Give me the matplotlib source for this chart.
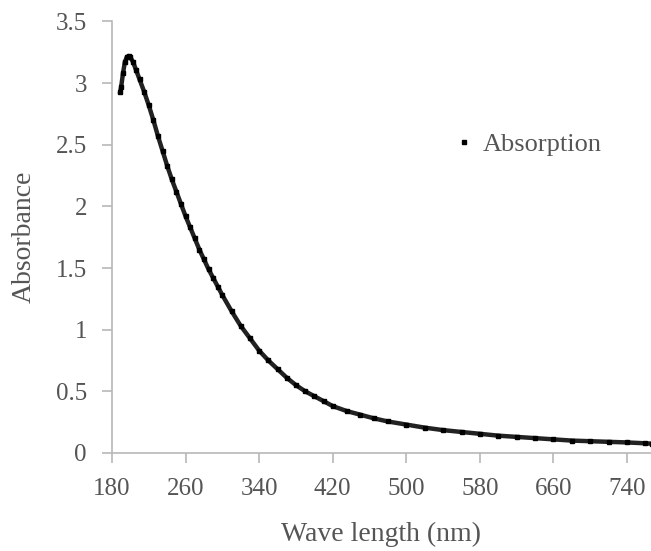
import matplotlib.pyplot as plt
import numpy as np

# wavelength (nm) and absorbance
wavelength = [189, 190, 192, 194, 196, 198, 200, 203, 206, 210, 215, 220, 225, 230,
              235, 240, 245, 250, 255, 260, 265, 270, 275, 280, 285, 290, 295, 300,
              310, 320, 330, 340, 350, 360, 370, 380, 390, 400, 410, 420, 435, 450,
              465, 480, 500, 520, 540, 560, 580, 600, 620, 640, 660, 680, 700, 720,
              740, 760, 767]
absorbance = [2.93, 2.97, 3.08, 3.17, 3.21, 3.22, 3.21, 3.17, 3.11, 3.03, 2.93, 2.82,
              2.70, 2.57, 2.45, 2.33, 2.22, 2.12, 2.02, 1.92, 1.83, 1.74, 1.65, 1.57,
              1.49, 1.42, 1.35, 1.28, 1.15, 1.03, 0.93, 0.83, 0.75, 0.68, 0.61, 0.55,
              0.50, 0.46, 0.42, 0.38, 0.34, 0.31, 0.28, 0.255, 0.23, 0.205, 0.185,
              0.17, 0.155, 0.14, 0.13, 0.12, 0.11, 0.10, 0.095, 0.09, 0.085, 0.078, 0.075]

xticks = [180, 260, 340, 420, 500, 580, 660, 740]
yticks = [0, 0.5, 1, 1.5, 2, 2.5, 3, 3.5]
ytick_labels = ['0', '0.5', '1', '1.5', '2', '2.5', '3', '3.5']

plt.rcParams['font.family'] = ['Liberation Serif', 'DejaVu Serif']
grey = '#555555'
axis_grey = '#b8b8b8'

fig = plt.figure(figsize=(6.51, 5.51), dpi=100)
ax = fig.add_axes([0.172, 0.178, 0.828, 0.783])

ax.plot(wavelength, absorbance, color='#222222', lw=3.2, zorder=2)
ax.plot(wavelength, absorbance, ls='none', marker='s', ms=2.5, color='black',
        label='Absorption', zorder=3)

ax.set_xlim(180, 766)
ax.set_ylim(0, 3.5)
ax.set_xticks(xticks)
ax.set_yticks(yticks)
ax.set_yticklabels(ytick_labels)

for s in ['top', 'right']:
    ax.spines[s].set_visible(False)
for s in ['left', 'bottom']:
    ax.spines[s].set_color(axis_grey)
    ax.spines[s].set_linewidth(1.2)
ax.tick_params(direction='out', length=7, width=1.2, color=axis_grey,
               labelcolor=grey, labelsize=18)
ax.tick_params(axis='y', pad=11)
ax.tick_params(axis='x', pad=11)

ax.set_xlabel('Wave length (nm)', fontsize=20, color=grey, labelpad=16)
ax.set_ylabel('Absorbance', fontsize=20, color=grey, labelpad=14)

leg = ax.legend(loc='center left', bbox_to_anchor=(0.60, 0.715), frameon=False,
                handlelength=0.4, handletextpad=0.5, fontsize=19, markerscale=0.9)
for t in leg.get_texts():
    t.set_color(grey)

fig.savefig('out.png', dpi=100)
